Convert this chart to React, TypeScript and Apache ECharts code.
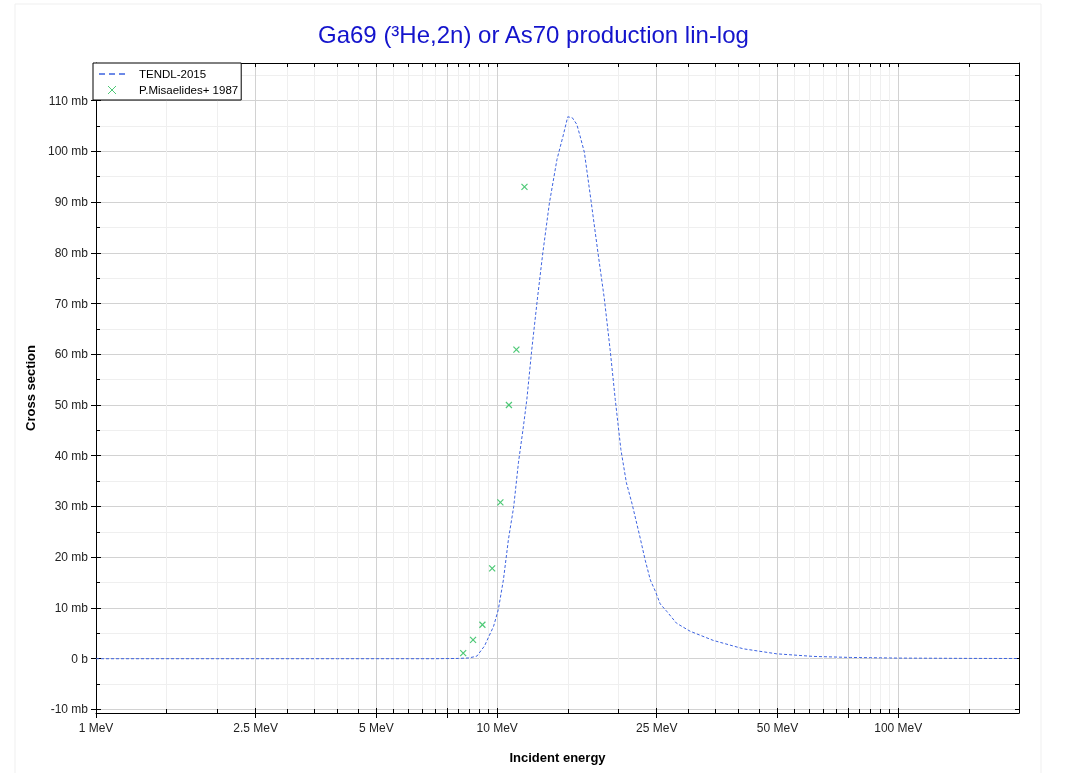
import React, { useEffect, useRef } from 'react';
import * as echarts from 'echarts';

const TITLE = 'Ga69 (³He,2n) or As70 production lin-log';
const X_NAME = 'Incident energy';
const Y_NAME = 'Cross section';
const SERIES_TENDL = 'TENDL-2015';
const SERIES_EXP = 'P.Misaelides+ 1987';

// TENDL-2015 evaluated curve (energy in MeV, cross section in mb)
const TENDL_E = [1, 2, 4, 6, 7, 8, 8.5, 8.9, 9.3, 9.8, 10.07, 10.37, 10.67, 11.0, 11.3, 11.63, 11.86, 12.2, 12.6, 13.0, 13.5, 14.1, 14.6, 15.0, 15.4, 15.8, 16.1, 16.5, 17.16, 17.84, 18.5, 19.13, 19.7, 20.35, 21.0, 21.7, 22.7, 23.4, 24.1, 24.8, 25.5, 26.5, 28.0, 30.3, 34.6, 41.1, 49.8, 61.5, 75.9, 100, 150, 200];
const TENDL_XS = [0, 0, 0, 0, 0, 0.05, 0.15, 0.5, 2.5, 6.4, 9.7, 15.6, 23.5, 30.0, 38.6, 45.8, 51.1, 60.9, 70.9, 80.0, 89.8, 98.4, 103.0, 106.8, 106.6, 105.3, 103.0, 99.8, 90.0, 80.0, 71.0, 60.9, 51.1, 41.2, 34.7, 30.5, 24.0, 19.4, 15.5, 13.3, 10.8, 9.3, 7.0, 5.4, 3.6, 1.95, 0.96, 0.45, 0.25, 0.12, 0.06, 0.04];

// Experimental points
const EXP_E = [8.23, 8.71, 9.19, 9.72, 10.19, 10.7, 11.17, 11.7];
const EXP_XS = [1.1, 3.7, 6.7, 17.8, 30.8, 50.0, 60.9, 93.0];

// Axis ticks
const X_LABELS = [1, 2.5, 5, 10, 25, 50, 100];
const X_MAJOR = [1, 2.5, 5, 7.5, 10, 25, 50, 75, 100];
const X_MINOR = [1.5, 2, 3, 3.5, 4, 4.5, 5.5, 6, 6.5, 7, 8, 8.5, 9, 9.5, 15, 20, 30, 35, 40, 45, 55, 60, 65, 70, 80, 85, 90, 95, 150];
const X_MIN_E = 1;
const X_MAX_E = 200;
const Y_MAJOR = [-10, 0, 10, 20, 30, 40, 50, 60, 70, 80, 90, 100, 110];
const Y_MINOR = [-5, 5, 15, 25, 35, 45, 55, 65, 75, 85, 95, 105, 115];
const Y_MIN = -10.7;
const Y_MAX = 117.4;

const FONT = '"Liberation Sans", Arial, Helvetica, sans-serif';
const LINE_COLOR = '#3d63e0';
const EXP_COLOR = '#22bb55';
const lg = (v: number) => Math.log10(v);

export default function App() {
  const ref = useRef<HTMLDivElement>(null);
  useEffect(() => {
    if (!ref.current) return;
    const chart = echarts.init(ref.current, null, { renderer: 'svg' });
    const xBase = { type: 'value', min: lg(X_MIN_E), max: lg(X_MAX_E), gridIndex: 0 };
    const yBase = { type: 'value', min: Y_MIN, max: Y_MAX, gridIndex: 0 };
    const black = { color: '#000', width: 1 };
    const option: any = {
      animation: false,
      textStyle: { fontFamily: FONT },
      title: {
        text: TITLE,
        left: 313,
        top: 17,
        textStyle: { color: '#1414cc', fontSize: 24, fontWeight: 'normal', fontFamily: FONT },
      },
      graphic: [
        { type: 'rect', shape: { x: 15, y: 4, width: 1026, height: 820 }, style: { fill: 'none', stroke: '#efefef', lineWidth: 1 }, silent: true, z: -10 },
      ],
      legend: {
        left: 93,
        top: 63,
        orient: 'vertical',
        backgroundColor: '#fff',
        borderColor: '#000',
        borderWidth: 1,
        borderRadius: 0,
        padding: [5, 3, 4, 6],
        itemGap: 4,
        itemWidth: 26,
        itemHeight: 8,
        textStyle: { fontSize: 11.5, color: '#000', fontFamily: FONT, padding: [0, 0, 0, 9] },
        data: [
          { name: SERIES_TENDL, icon: 'path://M0,0h6v1.6h-6zM10,0h6v1.6h-6zM20,0h6v1.6h-6z', itemStyle: { color: LINE_COLOR } },
          { name: SERIES_EXP, icon: 'path://M0,0L10,10M10,0L0,10', itemStyle: { color: 'transparent', borderColor: EXP_COLOR, borderWidth: 1 } },
        ],
      },
      grid: { left: 96, right: 48, top: 63, bottom: 60, containLabel: false, outerBoundsMode: 'none' },
      xAxis: [
        {
          ...xBase,
          position: 'bottom',
          axisLine: { show: true, onZero: false, lineStyle: black },
          axisTick: { show: true, inside: false, length: 5, customValues: X_MAJOR.map(lg), lineStyle: black },
          axisLabel: {
            show: true,
            customValues: X_LABELS.map(lg),
            formatter: (v: number) => `${+Math.pow(10, v).toPrecision(3)} MeV`,
            margin: 9,
            fontSize: 12,
            color: '#222',
            fontFamily: FONT,
          },
          splitLine: { show: true, lineStyle: { color: '#d2d2d2', width: 1 } },
          name: X_NAME,
          nameLocation: 'middle',
          nameGap: 38,
          nameTextStyle: { fontWeight: 'bold', fontSize: 13, color: '#000', fontFamily: FONT },
        },
        {
          ...xBase,
          position: 'bottom',
          axisLine: { show: false, onZero: false },
          axisTick: { show: true, inside: true, length: 5, customValues: X_MAJOR.map(lg), lineStyle: black },
          axisLabel: { show: false },
          splitLine: { show: false },
        },
        {
          ...xBase,
          position: 'bottom',
          axisLine: { show: false, onZero: false },
          axisTick: { show: true, inside: true, length: 4, customValues: X_MINOR.map(lg), lineStyle: black },
          axisLabel: { show: false },
          splitLine: { show: true, lineStyle: { color: '#efefef', width: 1 } },
        },
        {
          ...xBase,
          position: 'top',
          axisLine: { show: true, onZero: false, lineStyle: black },
          axisTick: { show: true, inside: true, length: 4, customValues: [...X_MAJOR, ...X_MINOR].map(lg), lineStyle: black },
          axisLabel: { show: false },
          splitLine: { show: false },
        },
      ],
      yAxis: [
        {
          ...yBase,
          position: 'left',
          axisLine: { show: true, onZero: false, lineStyle: black },
          axisTick: { show: true, inside: false, length: 5, customValues: Y_MAJOR, lineStyle: black },
          axisLabel: {
            show: true,
            customValues: Y_MAJOR,
            formatter: (v: number) => (v === 0 ? '0 b' : `${v} mb`),
            margin: 8,
            fontSize: 12,
            color: '#222',
            fontFamily: FONT,
          },
          splitLine: { show: true, lineStyle: { color: '#d2d2d2', width: 1 } },
          name: Y_NAME,
          nameLocation: 'middle',
          nameGap: 53,
          nameTextStyle: { fontWeight: 'bold', fontSize: 13, color: '#000', fontFamily: FONT },
        },
        {
          ...yBase,
          position: 'left',
          axisLine: { show: false, onZero: false },
          axisTick: { show: true, inside: true, length: 5, customValues: Y_MAJOR, lineStyle: black },
          axisLabel: { show: false },
          splitLine: { show: false },
        },
        {
          ...yBase,
          position: 'left',
          axisLine: { show: false, onZero: false },
          axisTick: { show: true, inside: true, length: 4, customValues: Y_MINOR, lineStyle: black },
          axisLabel: { show: false },
          splitLine: { show: true, lineStyle: { color: '#efefef', width: 1 } },
        },
        {
          ...yBase,
          position: 'right',
          axisLine: { show: true, onZero: false, lineStyle: black },
          axisTick: { show: true, inside: true, length: 4, customValues: [...Y_MAJOR, ...Y_MINOR], lineStyle: black },
          axisLabel: { show: false },
          splitLine: { show: false },
        },
      ],
      series: [
        {
          name: SERIES_TENDL,
          type: 'line',
          xAxisIndex: 0,
          yAxisIndex: 0,
          data: TENDL_E.map((e, i) => [lg(e), TENDL_XS[i]]),
          showSymbol: false,
          symbol: 'none',
          lineStyle: { color: LINE_COLOR, width: 1, type: [3, 2] },
          itemStyle: { color: LINE_COLOR },
          z: 3,
        },
        {
          name: SERIES_EXP,
          type: 'scatter',
          xAxisIndex: 0,
          yAxisIndex: 0,
          data: EXP_E.map((e, i) => [lg(e), EXP_XS[i]]),
          symbol: 'path://M0,0L10,10M10,0L0,10',
          symbolSize: 6,
          itemStyle: { color: 'transparent', borderColor: EXP_COLOR, borderWidth: 1.2 },
          z: 4,
        },
      ],
    };
    chart.setOption(option);
    return () => chart.dispose();
  }, []);
  return <div ref={ref} style={{ position: 'fixed', left: 0, top: 0, width: 1067, height: 773 }} />;
}
